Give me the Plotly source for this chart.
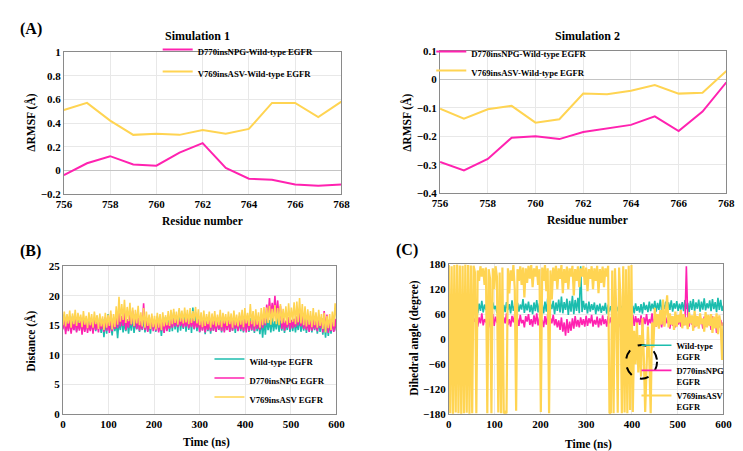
import plotly.graph_objects as go

# ---------------- data ----------------
residues = [756, 757, 758, 759, 760, 761, 762, 763, 764, 765, 766, 767, 768]
a1_npg = [-0.04, 0.06, 0.12, 0.05, 0.04, 0.15, 0.23, 0.02, -0.07, -0.08, -0.12, -0.13, -0.12]
a1_asv = [0.51, 0.57, 0.42, 0.30, 0.31, 0.30, 0.34, 0.31, 0.35, 0.57, 0.57, 0.45, 0.58]
a2_npg = [-0.29, -0.32, -0.28, -0.205, -0.20, -0.21, -0.185, -0.172, -0.16, -0.13, -0.182, -0.113, -0.01]
a2_asv = [-0.103, -0.138, -0.105, -0.093, -0.152, -0.14, -0.05, -0.052, -0.04, -0.02, -0.05, -0.047, 0.03]

# distance (B), sampled every 3 ns
b_wt = [14.5,16.8,14.0,16.2,14.3,15.8,13.9,16.5,14.2,15.9,
        14.0,16.3,14.4,15.7,13.8,16.0,14.1,15.6,14.3,16.4,
        14.2,16.0,13.9,15.8,14.0,16.6,14.4,15.5,13.7,16.1,
        13.0,15.8,13.6,16.9,14.1,15.4,13.3,16.2,14.0,15.6,
        12.8,15.9,14.2,16.3,13.8,15.5,14.0,16.0,13.6,15.8,
        14.1,16.4,13.7,15.6,14.3,16.1,13.9,15.7,14.2,16.3,
        13.8,16.0,14.0,15.5,13.6,16.2,14.4,15.8,13.9,16.5,
        14.1,15.7,13.2,16.0,13.8,16.4,14.2,15.9,13.9,16.8,
        14.0,17.2,14.3,16.5,13.8,17.6,14.1,16.3,14.4,17.0,
        13.9,16.8,14.2,17.4,13.7,18.0,14.3,17.2,14.0,16.6,
        13.8,16.4,14.2,15.9,13.5,16.2,14.0,15.8,13.6,16.1,
        14.1,15.7,13.9,16.3,14.2,15.9,13.8,16.5,14.0,15.6,
        14.3,16.2,13.9,15.8,14.1,16.6,13.7,16.0,14.2,15.7,
        14.0,16.4,13.8,16.0,14.3,15.8,13.9,16.2,14.1,15.9,
        13.7,16.3,14.0,15.6,13.5,16.0,12.9,15.8,13.4,16.1,
        14.2,15.9,13.8,16.2,14.0,15.7,14.3,16.4,13.9,15.8,
        14.1,16.0,13.7,15.6,14.2,16.3,13.9,15.9,14.0,16.1,
        13.8,15.7,14.2,16.4,13.9,15.8,14.1,16.2,13.7,15.9,
        14.0,16.3,13.8,15.6,14.2,16.0,13.6,15.8,13.9,16.2,
        13.4,15.7,12.9,16.1,13.2,15.5,13.6,16.0,14.0,15.4,
        14.2]
b_npg = [14.3,16.4,13.5,15.8,14.0,16.2,13.6,15.5,14.2,16.0,
         13.8,15.6,14.1,16.3,13.4,15.7,13.9,16.1,13.7,15.4,
         14.0,15.9,13.6,16.2,14.2,15.5,13.8,16.0,14.3,15.7,
         13.9,16.4,14.1,15.8,13.7,16.9,14.0,15.6,14.4,16.2,
         14.5,17.1,14.8,16.6,14.9,17.2,14.2,16.0,14.6,16.8,
         15.0,17.5,14.7,16.9,14.4,16.3,14.1,15.8,14.3,18.7,
         14.2,16.0,13.9,15.7,14.3,16.5,14.0,15.9,14.1,16.2,
         13.8,15.6,14.1,15.9,13.7,16.1,14.0,15.5,14.4,16.0,
         14.6,16.1,14.8,16.2,14.7,15.9,14.9,16.3,14.6,16.0,
         14.8,16.2,14.5,15.9,14.7,16.1,14.4,15.8,14.6,16.0,
         13.9,15.7,14.1,16.0,13.8,15.6,14.2,15.9,14.0,16.3,
         14.1,15.8,13.9,16.1,14.3,15.6,14.0,16.4,13.8,15.9,
         14.2,16.0,13.9,15.7,14.1,16.2,14.4,15.8,14.0,16.5,
         14.3,15.9,14.0,16.2,13.8,16.6,14.1,15.7,14.2,16.9,
         14.0,16.1,14.4,15.8,14.2,16.3,14.5,17.0,15.0,18.5,
         16.0,19.6,16.5,18.8,16.8,20.0,16.3,19.2,15.9,18.3,
         14.4,16.2,14.1,15.8,14.6,16.4,14.3,15.9,14.5,16.1,
         14.7,16.5,15.0,17.1,14.8,16.6,14.4,15.9,14.2,16.0,
         13.9,15.7,14.1,16.0,14.3,15.8,14.0,16.6,14.5,16.2,
         13.8,17.4,14.1,16.8,13.7,15.9,14.0,15.6,13.9,16.1,
         14.0]
b_asv = [15.0,17.3,14.8,16.9,15.3,17.5,14.6,17.0,15.2,17.6,
         14.9,17.1,15.4,16.8,14.7,17.4,15.1,16.6,14.5,17.2,
         15.0,16.9,14.6,17.3,15.2,16.7,14.4,17.0,14.8,16.5,
         14.2,17.1,14.6,16.8,14.9,17.5,14.3,16.9,14.7,18.2,
         15.1,19.8,15.6,18.6,15.9,19.3,15.4,18.1,15.7,18.8,
         15.2,18.0,14.9,17.6,15.3,18.3,15.0,17.2,14.8,17.9,
         14.6,17.3,14.9,16.8,14.4,17.0,14.7,16.6,14.3,17.1,
         14.6,16.9,14.2,17.2,14.8,16.7,15.0,17.4,14.9,17.6,
         15.2,17.8,15.4,17.3,15.1,17.9,15.6,17.5,15.3,18.0,
         15.5,17.6,15.2,17.9,15.4,17.4,15.7,18.1,15.3,17.7,
         15.0,17.2,14.7,17.5,14.9,16.9,15.2,17.3,14.6,17.0,
         15.1,17.4,14.8,16.8,15.0,17.6,14.7,17.1,15.3,16.9,
         14.9,17.3,15.2,17.0,14.6,17.5,15.0,16.8,14.8,17.2,
         15.1,17.6,14.7,17.9,15.3,17.1,14.9,18.6,15.2,17.4,
         14.8,17.7,15.1,17.2,14.6,17.9,15.0,18.1,15.3,18.0,
         15.4,18.3,15.1,17.8,15.6,18.4,15.2,17.9,15.0,18.6,
         15.3,17.8,15.5,18.2,15.1,18.7,15.4,18.0,15.6,18.9,
         15.2,19.0,15.5,19.6,15.3,18.6,15.0,18.2,14.8,17.7,
         15.1,17.4,14.7,17.9,15.0,17.2,14.6,17.6,14.9,16.9,
         14.4,17.1,13.8,16.6,14.5,16.9,14.2,17.3,14.8,18.7,
         16.0]

# dihedral angle (C), sampled every 3 ns
c_wt = [72,85,65,88,70,80,62,90,68,84,
        66,87,71,82,64,90,69,86,73,60,
        88,62,85,68,92,64,83,70,95,66,
        84,60,88,72,80,63,91,67,86,58,
        82,65,89,70,84,62,93,68,80,64,
        87,66,83,71,96,63,85,69,90,65,
        82,60,88,67,94,64,86,70,83,62,
        90,66,98,63,85,72,92,60,88,68,
        95,64,102,62,89,70,97,58,92,66,
        104,60,94,68,99,62,175,65,92,70,
        86,62,90,66,84,70,88,60,82,67,
        85,63,80,68,87,61,83,66,79,64,
        82,60,78,67,85,62,80,65,84,63,
        77,58,83,66,80,62,86,68,79,64,
        84,61,88,70,82,65,90,67,85,72,
        92,66,87,70,95,68,84,72,90,64,
        88,70,93,66,86,73,91,68,85,71,
        89,67,94,72,87,65,92,70,96,68,
        88,73,95,66,90,71,98,69,86,74,
        93,67,96,72,89,65,99,70,94,68,
        80]
c_npg = [45,30,55,35,50,28,58,40,48,32,
         52,36,60,30,47,38,55,33,50,42,
         58,30,52,38,62,33,48,40,56,28,
         50,36,60,32,54,40,46,30,58,35,
         52,38,62,34,48,30,56,40,60,36,
         50,32,58,38,46,28,55,42,60,34,
         48,30,57,36,62,33,52,40,46,29,
         55,35,60,30,50,38,58,33,48,28,
         45,22,52,18,40,8,48,15,42,20,
         50,25,55,30,46,28,52,34,48,30,
         56,32,50,38,58,30,46,35,54,28,
         50,33,57,36,48,30,55,38,52,32,
         58,30,50,35,47,28,56,33,60,5,
         52,30,48,36,58,32,55,38,50,34,
         57,30,52,36,60,33,48,38,62,35,
         50,30,55,36,47,28,58,33,52,38,
         46,25,54,32,50,28,57,35,48,30,
         53,33,46,175,50,30,55,35,48,28,
         56,32,50,36,47,25,54,30,52,34,
         48,22,55,30,50,15,53,28,46,32,
         40]
c_asv = [178,-178,175,-179,178,-176,179,-178,177,-179,
         176,-178,179,-177,178,-179,177,-178,176,160,
         -178,165,140,175,150,170,130,172,-178,168,
         145,-178,170,120,175,150,-176,160,-178,172,
         -178,-175,-178,170,110,165,140,178,120,-172,
         168,140,175,130,172,100,170,135,176,145,
         178,125,170,150,176,130,168,-175,172,140,
         178,115,170,-178,165,95,172,140,176,120,
         170,145,178,110,168,135,174,120,170,150,
         176,105,168,140,175,125,170,150,176,130,
         172,115,168,145,175,120,170,140,176,110,
         168,135,174,125,170,150,176,-178,-176,165,
         -178,170,60,-177,172,100,-178,175,-176,168,
         -178,176,-170,178,-175,20,-60,40,-80,10,
         -90,50,-40,-175,-70,30,-50,-178,40,-20,
         75,30,60,25,70,35,95,30,65,105,
         28,62,35,55,22,66,30,58,40,70,
         26,60,33,52,24,64,38,57,20,68,
         30,55,25,62,36,50,18,65,28,58,
         32,60,15,54,26,62,12,57,35,-50,
         40]

STEP_NS = 3
t_b = [STEP_NS * i for i in range(len(b_wt))]
t_c = [STEP_NS * i for i in range(len(c_wt))]

# ---------------- style ----------------
MAG = "#ff22b0"
YEL = "#ffd452"
TEAL = "#1cbdae"
FONT = "Liberation Serif"
W, H = 743, 451


def px(x):
    return x / W


def py(y):
    return 1 - y / H


fig = go.Figure()

# A1
fig.add_trace(go.Scatter(x=residues, y=a1_npg, mode="lines", line=dict(color=MAG, width=2),
                         name="D770insNPG-Wild-type EGFR", xaxis="x", yaxis="y",
                         legend="legend", legendgroup="a1m"))
fig.add_trace(go.Scatter(x=residues, y=a1_asv, mode="lines", line=dict(color=YEL, width=2),
                         name="V769insASV-Wild-type EGFR", xaxis="x", yaxis="y",
                         legend="legend", legendgroup="a1y"))
# A2
fig.add_trace(go.Scatter(x=residues, y=a2_npg, mode="lines", line=dict(color=MAG, width=2),
                         name="D770insNPG-Wild-type EGFR", xaxis="x2", yaxis="y2", legend="legend2"))
fig.add_trace(go.Scatter(x=residues, y=a2_asv, mode="lines", line=dict(color=YEL, width=2),
                         name="V769insASV-Wild-type EGFR", xaxis="x2", yaxis="y2", legend="legend2"))
# B
for vals, col, nm in [(b_wt, TEAL, "Wild-type EGFR"), (b_npg, MAG, "D770insNPG EGFR"),
                      (b_asv, YEL, "V769insASV EGFR")]:
    fig.add_trace(go.Scatter(x=t_b, y=vals, mode="lines", line=dict(color=col, width=1.6),
                             name=nm, xaxis="x3", yaxis="y3", legend="legend3"))
# C
for vals, col, nm, wd in [(c_wt, TEAL, "Wild-type<br>EGFR", 1.6), (c_npg, MAG, "D770insNPG<br>EGFR", 1.6),
                          (c_asv, YEL, "V769insASV<br>EGFR", 2.2)]:
    fig.add_trace(go.Scatter(x=t_c, y=vals, mode="lines", line=dict(color=col, width=wd),
                             name=nm, xaxis="x4", yaxis="y4", legend="legend4"))

tickfont = dict(family=FONT, size=11, color="black", weight="bold")
axbase = dict(showline=True, linecolor="#8a8a8a", linewidth=1, mirror=True, ticks="",
              showgrid=True, gridcolor="#e8e8e8", gridwidth=1, tickfont=tickfont,
              zeroline=False, fixedrange=True)

fig.update_layout(
    width=W, height=H, margin=dict(l=0, r=0, t=0, b=0),
    paper_bgcolor="white", plot_bgcolor="white",
    font=dict(family=FONT, color="black"),
    xaxis=dict(axbase, domain=[px(49), px(333)], anchor="y", range=[756, 768], dtick=2, tick0=756),
    yaxis=dict(axbase, domain=[py(185), py(39)], anchor="x", range=[-0.2, 1], dtick=0.2,
               zeroline=True, zerolinecolor="#c4c4c4", zerolinewidth=1),
    xaxis2=dict(axbase, domain=[px(434), px(727)], anchor="y2", range=[756, 768], dtick=2, tick0=756),
    yaxis2=dict(axbase, domain=[py(184), py(38)], anchor="x2", range=[-0.4, 0.1], dtick=0.1,
                zeroline=True, zerolinecolor="#c4c4c4", zerolinewidth=1),
    xaxis3=dict(axbase, domain=[px(48), px(328)], anchor="y3", range=[0, 600], dtick=100),
    yaxis3=dict(axbase, domain=[py(411), py(259)], anchor="x3", range=[0, 25], dtick=5),
    xaxis4=dict(axbase, domain=[px(443), px(724)], anchor="y4", range=[0, 600], dtick=100),
    yaxis4=dict(axbase, domain=[py(411), py(257)], anchor="x4", range=[-180, 180], dtick=60),
    showlegend=True,
)

legfont = dict(family=FONT, size=8.7, color="black", weight="bold")
legbase = dict(font=legfont, bgcolor="rgba(0,0,0,0)", borderwidth=0, itemwidth=30,
               tracegroupgap=0, xanchor="left", yanchor="top", itemclick=False,
               itemdoubleclick=False, valign="top")
fig.update_layout(
    legend=dict(legbase, x=px(145), y=py(24), tracegroupgap=3),
    legend2=dict(legbase, x=px(425), y=py(26)),
    legend3=dict(legbase, x=px(198), y=py(342)),
    legend4=dict(legbase, x=px(635), y=py(328), font=dict(legfont, size=8.5)),
)


def ann(text, x, y, size, angle=0):
    fig.add_annotation(text=text, x=px(x), y=py(y), xref="paper", yref="paper",
                       showarrow=False, textangle=angle, xanchor="center", yanchor="middle",
                       font=dict(family=FONT, size=size, color="black", weight="bold"))


ann("(A)", 15, 15, 16)
ann("(B)", 15, 243, 16)
ann("(C)", 400, 242, 16)
ann("Simulation 1", 186, 23, 12)
ann("Simulation 2", 585, 23, 12)
ann("Residue number", 191, 213, 11.5)
ann("Residue number", 585, 212, 11.5)
ann("Time (ns)", 195, 440, 11.5)
ann("Time (ns)", 586, 442, 11.5)
ann("ΔRMSF (Å)", 15, 112, 11.5, -90)
ann("ΔRMSF (Å)", 400, 112, 11.5, -90)
ann("Distance (Å)", 15, 336, 11.5, -90)
ann("Dihedral angle (degree)", 407, 333, 11.5, -90)

fig.add_shape(type="circle", xref="x4", yref="y4", x0=387, x1=455, y0=-95, y1=-14,
              line=dict(color="black", width=2, dash="dash"))

fig.write_html("out.html")
